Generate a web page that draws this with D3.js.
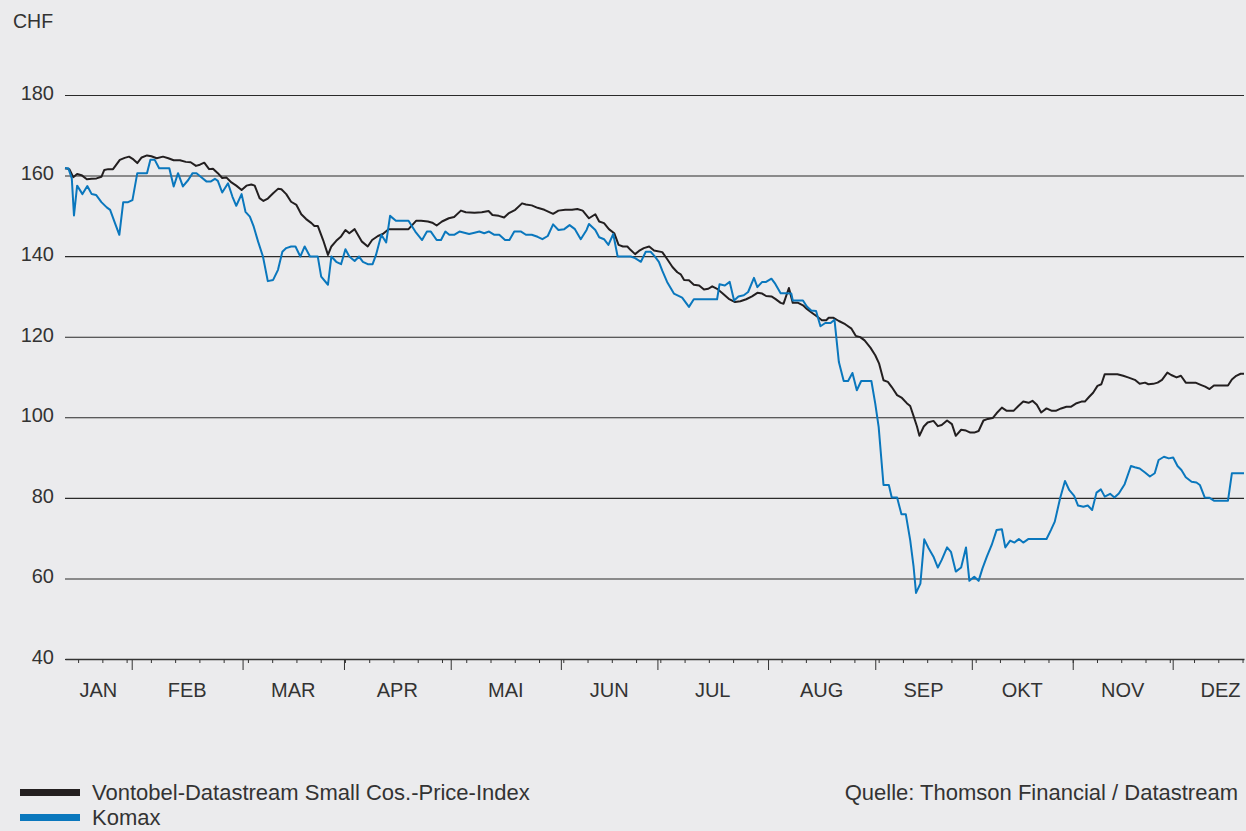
<!DOCTYPE html>
<html>
<head>
<meta charset="utf-8">
<script src="https://cdn.jsdelivr.net/npm/d3@7"></script>
<style>
  body { margin: 0; background: #ebebed; }
  svg { display: block; font-family: "Liberation Sans", Arial, sans-serif; }
</style>
</head>
<body>
<div id="chart"></div>
<script>
// Y axis ticks (CHF)
const yTicks = [40, 60, 80, 100, 120, 140, 160, 180];

// Month labels and where each month starts (trading day index)
const months = ["JAN", "FEB", "MAR", "APR", "MAI", "JUN", "JUL", "AUG", "SEP", "OKT", "NOV", "DEZ"];
const monthStarts = [13.75, 36.6, 57.5, 79.5, 102.2, 122.1, 144.9, 167.0, 186.9, 207.7, 228.3];
const yearEnd = 248;

// Weekly minor ticks (trading day index)
const weekTicks = d3.range(2.7, 243, 5);

// Vontobel-Datastream Small Cos.-Price-Index, [trading day, CHF]
const vontobel = [
  [0,161.8],[0.9,161.6],[1.7,159.6],[2.5,160.4],[3.4,160.1],[4.5,159.1],[5.5,159.2],[6.5,159.3],[7.5,159.7],
  [8.1,161.4],[8.9,161.6],[9.9,161.6],[11.3,163.9],[12.3,164.4],[13.2,164.7],[14.1,164.0],[14.9,163.1],
  [15.8,164.5],[16.9,165.0],[17.8,164.8],[18.9,164.3],[20.2,164.7],[21.3,164.3],[22.4,163.8],[23.7,163.8],
  [24.9,163.4],[25.9,163.3],[27.0,162.4],[27.8,162.7],[28.7,163.2],[29.7,161.6],[30.5,161.7],[31.5,160.6],
  [32.4,159.4],[33.3,159.5],[34.3,158.3],[35.3,157.5],[36.4,156.4],[37.4,157.5],[38.4,157.8],[39.1,157.5],
  [40.1,154.4],[40.9,153.7],[41.8,154.3],[42.9,155.6],[43.9,156.7],[44.6,156.6],[45.6,155.4],[46.6,153.5],
  [47.7,152.7],[48.7,150.4],[49.7,149.2],[50.8,148.2],[51.4,147.5],[52.1,147.5],[53.2,144.0],[54.2,140.3],
  [54.9,142.4],[55.9,143.8],[56.9,144.9],[57.8,146.5],[58.6,145.7],[59.7,146.7],[61.2,143.6],[62.4,142.4],
  [63.3,144.0],[64.5,145.0],[65.5,145.5],[66.7,146.7],[68.2,146.7],[69.6,146.7],[70.8,146.7],[72.4,148.8],
  [73.4,148.8],[74.8,148.6],[75.7,148.3],[76.6,147.6],[77.7,148.6],[79.1,149.4],[80.2,149.7],[81.6,151.3],
  [82.6,150.9],[84.4,150.8],[85.9,150.9],[87.3,151.2],[88.1,150.2],[89.4,150.0],[90.5,149.6],[91.4,150.6],
  [92.8,151.5],[94.2,153.1],[95.0,152.8],[96.2,152.6],[97.4,152.0],[98.8,151.5],[99.7,151.0],[100.6,150.5],
  [101.7,151.3],[103.1,151.5],[104.5,151.5],[105.6,151.7],[106.7,151.3],[108.0,149.4],[109.3,150.4],
  [110.1,148.6],[111.1,148.2],[112.1,146.7],[113.2,145.7],[114.1,142.8],[115.0,142.4],[115.9,142.4],
  [116.6,141.5],[117.5,140.5],[118.3,141.3],[119.3,142.0],[120.4,142.4],[121.4,141.4],[123.1,141.0],
  [124.1,139.3],[125.2,137.3],[126.2,136.0],[126.9,135.5],[127.6,134.1],[128.6,134.0],[129.6,132.9],
  [130.7,132.7],[131.7,131.7],[132.6,131.9],[133.4,132.5],[134.4,131.9],[135.5,130.8],[136.8,129.4],
  [138.1,128.6],[139.2,128.8],[140.4,129.3],[141.6,130.0],[142.7,130.9],[143.7,130.7],[144.5,130.1],
  [145.6,130.0],[146.4,129.4],[147.5,128.4],[148.1,128.2],[149.2,132.1],[150.0,128.4],[151.1,128.4],
  [152.1,127.8],[152.9,126.9],[154.0,125.9],[155.0,125.0],[156.0,124.1],[156.9,124.1],[157.4,124.7],
  [158.4,124.7],[159.5,123.9],[160.8,123.1],[162.1,122.0],[163.0,120.2],[163.9,119.9],[164.8,119.1],
  [166.0,117.3],[167.0,115.4],[167.8,113.3],[168.7,109.2],[169.6,108.8],[170.4,107.5],[171.5,105.5],
  [172.5,104.8],[173.5,103.5],[174.2,102.8],[174.9,100.3],[175.6,97.7],[176.1,95.4],[177.0,97.7],
  [177.8,98.7],[179.0,99.1],[179.9,97.8],[180.7,98.1],[181.8,99.2],[182.8,98.3],[183.6,95.4],[184.7,96.9],
  [185.7,96.7],[186.6,96.2],[187.4,96.2],[188.3,96.6],[189.3,99.2],[190.2,99.6],[191.2,99.8],[192.0,101.0],
  [193.1,102.4],[194.1,101.6],[195.5,101.6],[196.5,102.8],[197.5,103.9],[198.6,103.6],[199.4,104.1],
  [200.3,103.1],[201.2,101.2],[202.3,102.2],[203.4,101.6],[204.2,101.6],[205.3,102.2],[206.4,102.6],
  [207.3,102.6],[208.5,103.5],[209.5,103.9],[210.2,103.9],[211.1,105.1],[211.9,106.1],[212.8,107.8],
  [213.6,108.2],[214.3,110.7],[215.7,110.7],[216.9,110.7],[218.1,110.3],[219.1,109.9],[220.5,109.3],
  [221.5,108.3],[222.6,108.6],[223.3,108.2],[224.3,108.3],[225.2,108.6],[226.1,109.3],[227.2,111.1],
  [228.0,110.5],[229.1,109.9],[230.0,110.3],[231.0,108.6],[232.0,108.6],[233.0,108.6],[234.2,108.0],
  [235.0,107.6],[235.9,107.0],[236.8,107.9],[238.0,107.9],[238.9,107.9],[239.7,107.9],[240.5,109.4],
  [241.4,110.3],[242.3,110.8],[243.0,110.8]
];

// Komax share price, [trading day, CHF]
const komax = [
  [0,161.8],[0.7,161.8],[1.4,159.3],[1.85,150.1],[2.5,157.5],[3.6,155.4],[4.6,157.4],[5.5,155.4],[6.4,155.2],
  [7.5,153.4],[8.6,152.1],[9.3,151.5],[10.3,148.2],[11.2,145.3],[12.0,153.4],[13.0,153.4],[13.9,153.9],
  [14.9,160.6],[15.8,160.6],[16.9,160.6],[17.6,163.9],[18.5,163.9],[19.4,161.8],[20.4,161.8],[21.5,161.8],
  [22.4,157.3],[23.3,160.6],[24.3,157.3],[25.4,158.9],[26.3,160.6],[27.1,160.6],[28.1,159.6],[29.2,158.5],
  [30.0,158.5],[30.9,159.2],[31.5,158.7],[32.4,155.8],[33.6,158.1],[34.5,154.8],[35.3,152.5],[36.4,155.4],
  [37.2,151.0],[38.1,149.8],[38.9,147.3],[39.8,143.6],[40.8,139.9],[41.8,133.8],[42.9,134.1],[43.9,136.6],
  [44.8,141.1],[45.6,142.0],[46.6,142.4],[47.5,142.4],[48.5,139.9],[49.4,142.4],[50.5,139.9],[51.4,139.9],
  [52.1,139.9],[52.8,134.9],[54.2,132.9],[54.9,139.9],[55.9,138.6],[56.9,138.0],[57.8,141.7],[58.6,139.9],
  [59.7,138.8],[60.6,139.9],[61.4,138.6],[62.4,138.0],[63.4,138.0],[64.1,140.3],[65.2,145.3],[66.2,143.4],
  [67.0,150.0],[68.2,148.8],[69.6,148.8],[70.8,148.8],[72.2,146.1],[73.6,144.0],[74.6,146.1],[75.4,146.1],
  [76.6,144.0],[77.5,144.0],[78.4,146.1],[79.2,145.3],[80.2,145.3],[81.3,146.1],[82.3,145.8],[83.3,145.5],
  [84.4,145.8],[85.4,146.1],[86.4,145.7],[87.4,146.1],[88.5,145.3],[89.5,145.3],[90.7,144.0],[91.6,144.0],
  [92.6,146.1],[94.0,146.1],[95.0,145.3],[96.2,145.3],[97.4,144.8],[98.4,144.2],[99.5,145.0],[100.6,147.9],
  [101.7,146.5],[102.9,146.7],[104.0,147.7],[105.1,146.7],[106.3,144.2],[107.5,146.5],[108.0,148.0],
  [109.3,146.5],[110.1,144.7],[111.1,144.2],[112.0,142.8],[113.0,145.5],[113.9,139.9],[115.2,139.9],
  [116.6,139.9],[117.5,139.5],[118.7,138.6],[119.7,141.1],[120.7,141.1],[121.6,139.9],[122.4,138.6],
  [123.1,136.4],[124.1,133.6],[125.5,130.7],[127.2,129.7],[128.6,127.4],[129.6,129.3],[131.3,129.3],
  [133.1,129.3],[134.4,129.3],[134.9,133.0],[136.0,132.7],[137.0,133.6],[137.9,129.0],[138.8,130.0],
  [139.9,130.3],[140.8,131.1],[142.0,134.6],[142.7,132.3],[143.7,133.6],[144.5,133.6],[145.6,134.4],
  [146.4,133.1],[147.5,130.8],[148.5,130.8],[149.7,130.7],[150.0,129.0],[151.1,129.0],[152.1,129.0],
  [152.9,127.5],[153.8,126.5],[154.8,126.4],[155.7,122.6],[156.7,123.4],[157.8,123.4],[158.6,124.2],
  [159.5,113.7],[160.5,109.0],[161.4,109.0],[162.3,111.0],[163.2,106.7],[164.1,109.0],[165.1,109.0],
  [166.2,109.0],[167.0,103.4],[167.7,97.6],[168.7,83.2],[169.8,83.2],[170.4,80.1],[171.5,80.1],[172.4,75.9],
  [173.3,75.9],[174.2,69.5],[174.9,62.9],[175.4,56.4],[176.3,58.7],[177.1,69.7],[178.0,67.5],[179.0,65.4],
  [179.9,62.7],[180.7,64.6],[181.8,67.7],[182.6,66.6],[183.6,61.7],[184.7,62.7],[185.7,67.7],[186.4,59.4],
  [187.4,60.4],[188.3,59.4],[189.1,62.5],[190.0,65.4],[191.0,68.3],[192.0,72.0],[193.1,72.2],[193.8,67.7],
  [194.8,69.4],[195.7,68.9],[196.6,69.8],[197.5,68.9],[198.6,69.8],[199.8,69.8],[201.0,69.8],[202.3,69.8],
  [203.2,72.0],[204.0,74.1],[205.1,79.9],[206.1,84.2],[207.0,81.9],[208.0,80.5],[208.8,78.1],[209.9,77.8],
  [210.8,78.1],[211.7,77.0],[212.6,81.3],[213.5,82.1],[214.3,80.3],[215.4,81.0],[216.3,80.1],[217.2,81.1],
  [218.4,83.4],[219.7,87.9],[220.5,87.6],[221.5,87.3],[222.6,86.3],[223.6,85.3],[224.6,86.1],[225.4,89.4],
  [226.5,90.2],[227.5,89.8],[228.4,90.0],[229.3,87.9],[230.1,86.9],[231.0,85.1],[232.2,84.0],[233.2,83.8],
  [233.9,83.2],[234.9,80.1],[235.9,80.0],[236.8,79.3],[238.0,79.3],[238.9,79.3],[239.7,79.3],[240.5,86.1],
  [241.4,86.1],[242.3,86.1],[243.0,86.1]
];

const legendItems = [
  { name: "Vontobel-Datastream Small Cos.-Price-Index", color: "#231f20" },
  { name: "Komax", color: "#0a77bd" }
];
const sourceText = "Quelle: Thomson Financial / Datastream";

// Dimensions
const margin = { top: 95, right: 2, bottom: 172, left: 65 };
const width = 1246 - margin.left - margin.right;
const height = 831 - margin.top - margin.bottom;

const root = d3.select("#chart")
  .append("svg")
  .attr("width", width + margin.left + margin.right)
  .attr("height", height + margin.top + margin.bottom);

root.append("rect")
  .attr("width", "100%")
  .attr("height", "100%")
  .attr("fill", "#ebebed");

const svg = root.append("g")
  .attr("transform", `translate(${margin.left},${margin.top})`);

// Scales
const x = d3.scaleLinear()
  .domain([0, 243])
  .range([0, width]);

const y = d3.scaleLinear()
  .domain([40, 180])
  .range([height, 0]);

// Horizontal gridlines with value labels
const yAxis = svg.append("g")
  .call(d3.axisLeft(y).tickValues(yTicks).tickSize(-width).tickPadding(11));
yAxis.select(".domain").remove();
yAxis.selectAll("line")
  .attr("stroke", "#2a2a2a")
  .attr("stroke-width", 1.1);
yAxis.selectAll("text")
  .attr("dy", "0.22em")
  .attr("fill", "#333")
  .style("font-size", "20px");

// Unit label
root.append("text")
  .attr("x", 13)
  .attr("y", 28)
  .attr("fill", "#333")
  .style("font-size", "19.5px")
  .text("CHF");

// Weekly minor ticks on the x axis
const xMinor = svg.append("g")
  .attr("transform", `translate(0,${height})`)
  .call(d3.axisBottom(x).tickValues(weekTicks).tickSize(4).tickSizeOuter(0).tickFormat(""));
xMinor.select(".domain").attr("stroke", "#333").attr("stroke-width", 1.5);
xMinor.selectAll("line").attr("stroke", "#333");

// Month boundaries as longer ticks
const xMajor = svg.append("g")
  .attr("transform", `translate(0,${height})`)
  .call(d3.axisBottom(x).tickValues(monthStarts).tickSize(11).tickSizeOuter(0).tickFormat(""));
xMajor.select(".domain").remove();
xMajor.selectAll("line").attr("stroke", "#333");

// Month labels centred in each month
const bounds = [0, ...monthStarts, yearEnd];
svg.append("g")
  .selectAll("text")
  .data(months)
  .enter()
  .append("text")
  .attr("x", (d, i) => x((bounds[i] + bounds[i + 1]) / 2))
  .attr("y", height + 38)
  .attr("text-anchor", "middle")
  .attr("fill", "#333")
  .style("font-size", "20px")
  .text(d => d);

// Lines
const line = d3.line()
  .x(d => x(d[0]))
  .y(d => y(d[1]));

svg.append("path")
  .datum(vontobel)
  .attr("fill", "none")
  .attr("stroke", legendItems[0].color)
  .attr("stroke-width", 2)
  .attr("stroke-linejoin", "round")
  .attr("d", line);

svg.append("path")
  .datum(komax)
  .attr("fill", "none")
  .attr("stroke", legendItems[1].color)
  .attr("stroke-width", 2)
  .attr("stroke-linejoin", "round")
  .attr("d", line);

// Legend
const legend = root.append("g")
  .attr("transform", "translate(20, 789)");

legendItems.forEach((item, i) => {
  const row = legend.append("g").attr("transform", `translate(0, ${i * 25})`);
  row.append("rect")
    .attr("width", 60)
    .attr("height", 7)
    .attr("fill", item.color);
  row.append("text")
    .attr("x", 72)
    .attr("y", 11)
    .attr("fill", "#333")
    .style("font-size", "22px")
    .text(item.name);
});

// Source note
root.append("text")
  .attr("x", 1238)
  .attr("y", 800)
  .attr("text-anchor", "end")
  .attr("fill", "#333")
  .style("font-size", "22px")
  .text(sourceText);
</script>
</body>
</html>
